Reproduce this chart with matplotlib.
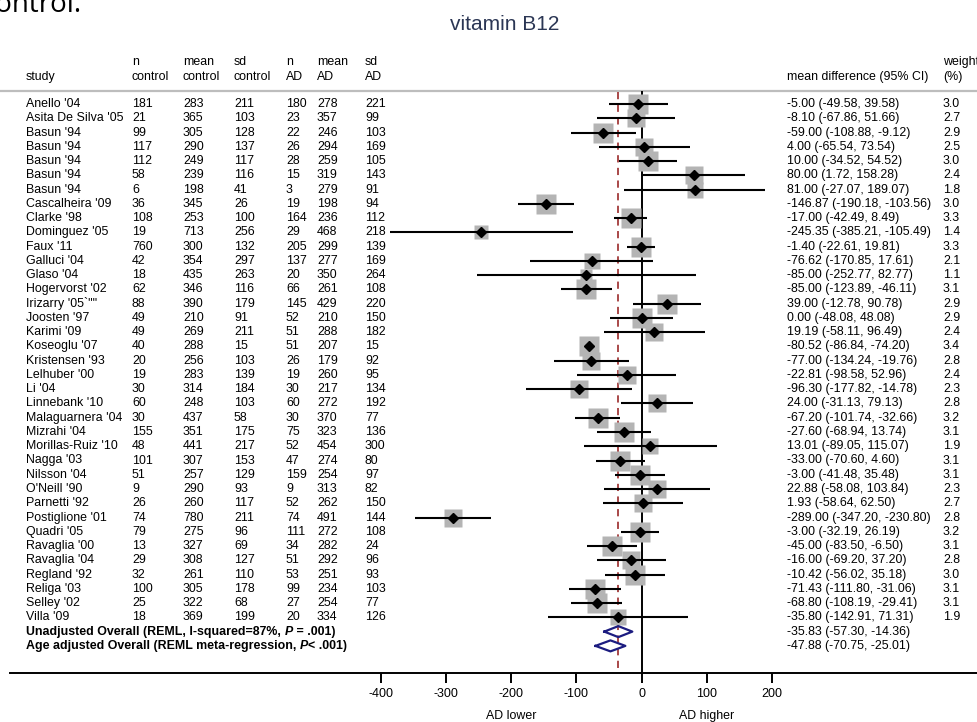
import matplotlib
matplotlib.use("Agg")
import matplotlib.pyplot as plt
import matplotlib.transforms as mtransforms
import numpy as np

plt.rcParams['font.family'] = ['Liberation Sans', 'DejaVu Sans']

studies = ["Anello '04", "Asita De Silva '05", "Basun '94", "Basun '94", "Basun '94",
           "Basun '94", "Basun '94", "Cascalheira '09", "Clarke '98", "Dominguez '05",
           "Faux '11", "Galluci '04", "Glaso '04", "Hogervorst '02", "Irizarry '05`\"\"",
           "Joosten '97", "Karimi '09", "Koseoglu '07", "Kristensen '93", "Lelhuber '00",
           "Li '04", "Linnebank '10", "Malaguarnera '04", "Mizrahi '04", "Morillas-Ruiz '10",
           "Nagga '03", "Nilsson '04", "O'Neill '90", "Parnetti '92", "Postiglione '01",
           "Quadri '05", "Ravaglia '00", "Ravaglia '04", "Regland '92", "Religa '03",
           "Selley '02", "Villa '09"]
n_control = [181, 21, 99, 117, 112, 58, 6, 36, 108, 19, 760, 42, 18, 62, 88, 49, 49, 40, 20, 19,
             30, 60, 30, 155, 48, 101, 51, 9, 26, 74, 79, 13, 29, 32, 100, 25, 18]
mean_control = [283, 365, 305, 290, 249, 239, 198, 345, 253, 713, 300, 354, 435, 346, 390, 210, 269,
                288, 256, 283, 314, 248, 437, 351, 441, 307, 257, 290, 260, 780, 275, 327, 308, 261,
                305, 322, 369]
sd_control = [211, 103, 128, 137, 117, 116, 41, 26, 100, 256, 132, 297, 263, 116, 179, 91, 211, 15,
              103, 139, 184, 103, 58, 175, 217, 153, 129, 93, 117, 211, 96, 69, 127, 110, 178, 68, 199]
n_ad = [180, 23, 22, 26, 28, 15, 3, 19, 164, 29, 205, 137, 20, 66, 145, 52, 51, 51, 26, 19, 30, 60,
        30, 75, 52, 47, 159, 9, 52, 74, 111, 34, 51, 53, 99, 27, 20]
mean_ad = [278, 357, 246, 294, 259, 319, 279, 198, 236, 468, 299, 277, 350, 261, 429, 210, 288, 207,
           179, 260, 217, 272, 370, 323, 454, 274, 254, 313, 262, 491, 272, 282, 292, 251, 234, 254, 334]
sd_ad = [221, 99, 103, 169, 105, 143, 91, 94, 112, 218, 139, 169, 264, 108, 220, 150, 182, 15, 92, 95,
         134, 192, 77, 136, 300, 80, 97, 82, 150, 144, 108, 24, 96, 93, 103, 77, 126]
mean_diff = [-5.00, -8.10, -59.00, 4.00, 10.00, 80.00, 81.00, -146.87, -17.00, -245.35, -1.40, -76.62,
             -85.00, -85.00, 39.00, 0.00, 19.19, -80.52, -77.00, -22.81, -96.30, 24.00, -67.20, -27.60,
             13.01, -33.00, -3.00, 22.88, 1.93, -289.00, -3.00, -45.00, -16.00, -10.42, -71.43, -68.80,
             -35.80]
ci_low = [-49.58, -67.86, -108.88, -65.54, -34.52, 1.72, -27.07, -190.18, -42.49, -385.21, -22.61,
          -170.85, -252.77, -123.89, -12.78, -48.08, -58.11, -86.84, -134.24, -98.58, -177.82, -31.13,
          -101.74, -68.94, -89.05, -70.60, -41.48, -58.08, -58.64, -347.20, -32.19, -83.50, -69.20,
          -56.02, -111.80, -108.19, -142.91]
ci_high = [39.58, 51.66, -9.12, 73.54, 54.52, 158.28, 189.07, -103.56, 8.49, -105.49, 19.81, 17.61,
           82.77, -46.11, 90.78, 48.08, 96.49, -74.20, -19.76, 52.96, -14.78, 79.13, -32.66, 13.74,
           115.07, 4.60, 35.48, 103.84, 62.50, -230.80, 26.19, -6.50, 37.20, 35.18, -31.06, -29.41,
           71.31]
weights = [3.0, 2.7, 2.9, 2.5, 3.0, 2.4, 1.8, 3.0, 3.3, 1.4, 3.3, 2.1, 1.1, 3.1, 2.9, 2.9, 2.4, 3.4,
           2.8, 2.4, 2.3, 2.8, 3.2, 3.1, 1.9, 3.1, 3.1, 2.3, 2.7, 2.8, 3.2, 3.1, 2.8, 3.0, 3.1, 3.1, 1.9]

overall_labels = ["Unadjusted Overall (REML, I-squared=87%, ", "Age adjusted Overall (REML meta-regression, "]
overall_p = [" = .001)", "< .001)"]
overall_md = [-35.83, -47.88]
overall_lo = [-57.30, -70.75]
overall_hi = [-14.36, -25.01]
xticks = [-400, -300, -200, -100, 0, 100, 200]

# ---- layout (pixels) ----
W, H = 978, 722
fig = plt.figure(figsize=(W / 100, H / 100), dpi=100)
x0_px, px_per_unit = 641.7, 0.653
left_px, axis_px = 10, 673
ax = fig.add_axes([left_px / W, (H - axis_px) / H, (W - left_px) / W, axis_px / H])
ax.set_xlim((left_px - x0_px) / px_per_unit, (W - x0_px) / px_per_unit)
ax.set_ylim(axis_px, 0)
for s in ['top', 'left', 'right']:
    ax.spines[s].set_visible(False)
ax.spines['bottom'].set_linewidth(1.4)
ax.set_yticks([])
ax.set_xticks(xticks)
ax.set_xticklabels([str(t) for t in xticks])
ax.tick_params(axis='x', direction='out', length=7.5, width=1.4, labelsize=9, pad=3.0)

tr = mtransforms.blended_transform_factory(fig.transFigure, ax.transData)
def fx(px):
    return px / W

row0, dy = 104, 14.26
n = len(studies)
ys = row0 + dy * np.arange(n)
y_over = row0 + dy * np.arange(n, n + 2)
header_line_y = 91

# header
fs = 8.9
cols = [26, 132, 183, 234, 286, 317, 365]
top_hdr = ["", "n", "mean", "sd", "n", "mean", "sd"]
bot_hdr = ["study", "control", "control", "control", "AD", "AD", "AD"]
for cx, t1, t2 in zip(cols, top_hdr, bot_hdr):
    ax.text(fx(cx), 62, t1, transform=tr, fontsize=fs, va='center', ha='left')
    ax.text(fx(cx), 77, t2, transform=tr, fontsize=fs, va='center', ha='left')
ax.text(fx(787), 77, "mean difference (95% CI)", transform=tr, fontsize=fs, va='center', ha='left')
ax.text(fx(943), 62, "weight", transform=tr, fontsize=fs, va='center', ha='left')
ax.text(fx(943), 77, "(%)", transform=tr, fontsize=fs, va='center', ha='left')
ax.plot([0, 1], [header_line_y, header_line_y], transform=tr, color='#bdbdbd', lw=1.6,
        clip_on=False)

# table rows
for i in range(n):
    y = ys[i]
    vals = [studies[i], n_control[i], mean_control[i], sd_control[i], n_ad[i], mean_ad[i], sd_ad[i]]
    for cx, v in zip(cols, vals):
        ax.text(fx(cx), y, str(v), transform=tr, fontsize=fs, va='center', ha='left')
    ax.text(fx(787), y, f"{mean_diff[i]:.2f} ({ci_low[i]:.2f}, {ci_high[i]:.2f})", transform=tr,
            fontsize=fs, va='center', ha='left')
    ax.text(fx(943), y, f"{weights[i]:.1f}", transform=tr, fontsize=fs, va='center', ha='left')

for j in range(2):
    y = y_over[j]
    t1 = ax.text(fx(26), y, overall_labels[j], transform=tr, fontsize=fs, fontweight='bold',
                 va='center', ha='left')
    t2 = ax.annotate("P", xy=(1, 0.5), xycoords=t1, fontsize=fs, fontweight='bold',
                     fontstyle='italic', va='center', ha='left')
    ax.annotate(overall_p[j], xy=(1, 0.5), xycoords=t2, fontsize=fs, fontweight='bold',
                va='center', ha='left')
    ax.text(fx(787), y, f"{overall_md[j]:.2f} ({overall_lo[j]:.2f}, {overall_hi[j]:.2f})",
            transform=tr, fontsize=fs, va='center', ha='left')

# reference lines
ax.plot([0, 0], [header_line_y + 1, axis_px], color='black', lw=1.4, zorder=2)
ax.plot([overall_md[0], overall_md[0]], [header_line_y + 1, axis_px], color='#a33a3a', lw=1.3,
        ls=(0, (4, 3)), zorder=2)

# study marks
w = np.array(weights)
for i in range(n):
    ms = 14 * np.sqrt(w[i] / 3.0)
    ax.plot(mean_diff[i], ys[i], marker='s', ms=ms, color='#b4b4b4', mec='none', zorder=3)
ax.hlines(ys, ci_low, ci_high, color='black', lw=1.5, zorder=4)
ax.plot(mean_diff, ys, ls='none', marker='D', ms=5, color='black', zorder=5)

# overall diamonds
half_h = 5.5
for j in range(2):
    y = y_over[j]
    xs = [overall_lo[j], overall_md[j], overall_hi[j], overall_md[j], overall_lo[j]]
    yy = [y, y - half_h, y, y + half_h, y]
    ax.plot(xs, yy, color='#1c1c80', lw=1.6, zorder=5)

# axis captions
ax.text(-200, 710, "AD lower", fontsize=fs, ha='center', va='top', clip_on=False)
ax.text(100, 710, "AD higher", fontsize=fs, ha='center', va='top', clip_on=False)

# title and cropped slide text
fig.text(505 / W, 1 - 25 / H, "vitamin B12", fontsize=15, color='#2b3654', ha='center', va='center')
fig.text(82 / W, 1 - 12 / H, "control.", fontsize=20, color='black', ha='right', va='baseline',
         family=['Open Sans', 'DejaVu Sans'])

fig.savefig("out.png", dpi=100)
